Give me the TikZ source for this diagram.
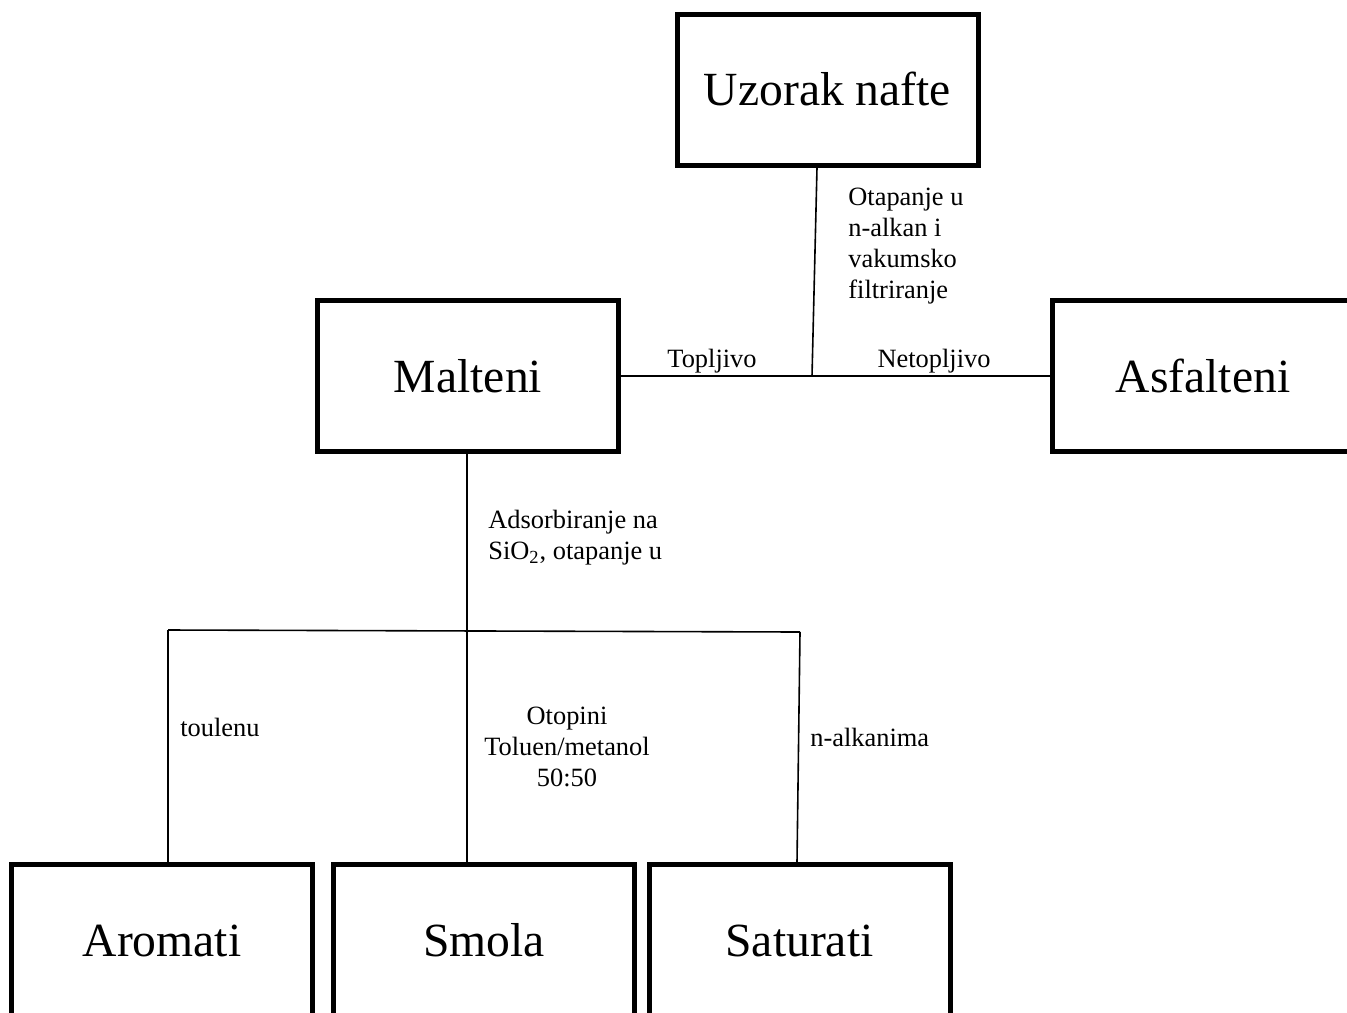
\documentclass[tikz,border=0pt]{standalone}
\usepackage{fontspec}
\setmainfont{Liberation Serif}

\begin{document}
\begin{tikzpicture}[x=0.5pt, y=-0.5pt,
  box/.style={draw, line width=2.5pt, rectangle, minimum width=150.5pt, minimum height=75.5pt, inner sep=0pt, text height=16.3pt, text depth=0pt, font=\fontsize{23.8}{28}\selectfont},
  link/.style={line width=0.8pt},
  note/.style={inner sep=0pt, font=\fontsize{13.2}{15.5}\selectfont}]
\clip (0,0) rectangle (1347,1012);
\node[box] (uzorak) at (827.5,89.5) {Uzorak nafte};
\node[box] (malteni) at (468,376) {Malteni};
\node[box] (asfalteni) at (1203,376) {Asfalteni};
\node[box] (aromati) at (162,940) {Aromati};
\node[box] (smola) at (484,940) {Smola};
\node[box] (saturati) at (799.5,940) {Saturati};
\coordinate (jA) at (812,376);
\coordinate (jB) at (467,631);
\coordinate (jL) at (168,630);
\coordinate (jR) at (800,632);
\draw[link] ([xshift=-5.25pt]uzorak.south) -- (jA);
\draw[link] (malteni.east) -- (asfalteni.west);
\draw[link] (malteni.south -| jB) -- (jB);
\draw[link] (jL) -- (jR);
\draw[link] (jL) -- (jL |- aromati.north);
\draw[link] (jB) -- (jB |- smola.north);
\draw[link] (jR) -- ([xshift=-1.25pt]saturati.north);
\node[note, anchor=west, align=left] (otapanje) at (848,246) {Otapanje u\\n-alkan i\\vakumsko\\filtriranje};
\node[note] (topljivo) at (712,361) {Topljivo};
\node[note] (netopljivo) at (934,361) {Netopljivo};
\node[note, anchor=west, align=left] (adsorb) at (488,538) {Adsorbiranje na\\SiO\textsubscript{2}, otapanje u};
\node[note, anchor=west] (toulenu) at (180,727) {toulenu};
\node[note, align=center] (otopini) at (567,747) {Otopini\\Toluen/metanol\\50:50};
\node[note, anchor=west] (nalkanima) at (810,737) {n-alkanima};
\end{tikzpicture}
\end{document}
